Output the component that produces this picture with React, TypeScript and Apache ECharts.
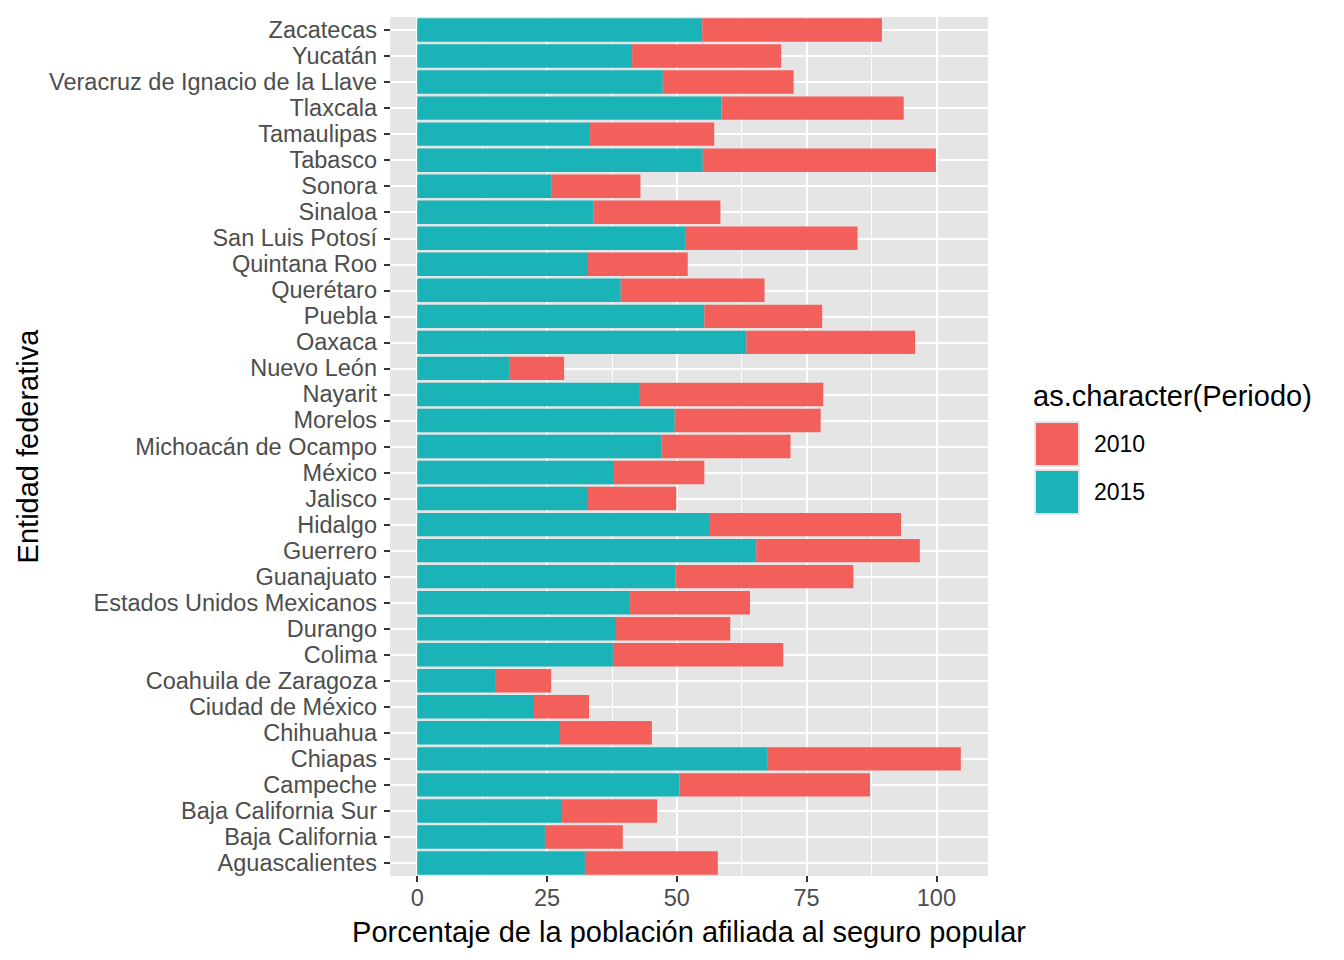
import React, { useEffect, useRef } from "react";
import * as echarts from "echarts";

const categories = [
  "Aguascalientes", "Baja California", "Baja California Sur", "Campeche", "Chiapas",
  "Chihuahua", "Ciudad de México", "Coahuila de Zaragoza", "Colima", "Durango",
  "Estados Unidos Mexicanos", "Guanajuato", "Guerrero", "Hidalgo", "Jalisco",
  "México", "Michoacán de Ocampo", "Morelos", "Nayarit", "Nuevo León",
  "Oaxaca", "Puebla", "Querétaro", "Quintana Roo", "San Luis Potosí",
  "Sinaloa", "Sonora", "Tabasco", "Tamaulipas", "Tlaxcala",
  "Veracruz de Ignacio de la Llave", "Yucatán", "Zacatecas",
];

const values2015 = [
  32.3, 24.6, 27.9, 50.5, 67.4,
  27.5, 22.5, 15.0, 37.7, 38.3,
  41.0, 49.7, 65.3, 56.2, 32.9,
  37.9, 47.1, 49.6, 42.9, 17.7,
  63.4, 55.3, 39.2, 32.9, 51.6,
  33.9, 25.8, 55.0, 33.3, 58.6,
  47.3, 41.4, 54.9,
];

const values2010 = [
  25.6, 15.0, 18.3, 36.7, 37.3,
  17.7, 10.6, 10.8, 32.8, 22.0,
  23.1, 34.3, 31.5, 37.0, 17.0,
  17.4, 24.8, 28.1, 35.3, 10.6,
  32.5, 22.7, 27.7, 19.2, 33.2,
  24.5, 17.2, 44.9, 23.9, 35.1,
  25.2, 28.7, 34.6,
];

const seriesNames = ["2010", "2015"];
const majorTicks = [0, 25, 50, 75, 100];
const minorTicks = [12.5, 37.5, 62.5, 87.5];

const FONT = "Liberation Sans, Arial, Helvetica, sans-serif";
const RED = "#F35F5A";
const TEAL = "#19B3B8";

export default function App() {
  const ref = useRef<HTMLDivElement>(null);

  useEffect(() => {
    document.body.style.margin = "0";
    if (!ref.current) return;
    const chart = echarts.init(ref.current, undefined, { renderer: "svg" });

    const totals = values2015.map((v, i) => v + values2010[i]);
    const maxTotal = Math.max(...totals);
    const pad = maxTotal * 0.05;

    const gridLines: any[] = [
      ...categories.map((c) => ({ yAxis: c, lineStyle: { color: "#FFFFFF", width: 1.8, type: "solid" } })),
      ...majorTicks.map((v) => ({ xAxis: v, lineStyle: { color: "#FFFFFF", width: 1.8, type: "solid" } })),
      ...minorTicks.map((v) => ({ xAxis: v, lineStyle: { color: "#FFFFFF", width: 0.9, type: "solid" } })),
    ];

    chart.setOption({
      animation: false,
      textStyle: { fontFamily: FONT },
      grid: {
        left: 390,
        right: 356,
        top: 17,
        bottom: 84,
        show: true,
        backgroundColor: "#E5E5E5",
        borderWidth: 0,
        containLabel: false,
      },
      title: {
        text: "as.character(Periodo)",
        left: 1033,
        top: 381,
        padding: 0,
        textStyle: { fontSize: 29, fontWeight: "normal", color: "#000000", fontFamily: FONT },
      },
      legend: {
        data: seriesNames,
        orient: "vertical",
        left: 1034,
        top: 421,
        padding: 0,
        itemWidth: 44,
        itemHeight: 44,
        itemGap: 2,
        icon: "rect",
        itemStyle: { borderColor: "#E5E5E5", borderWidth: 2 },
        textStyle: { fontSize: 23, color: "#000000", fontFamily: FONT, padding: [0, 0, 0, 10] },
        selectedMode: false,
      },
      xAxis: {
        type: "value",
        min: -pad,
        max: maxTotal + pad,
        name: "Porcentaje de la población afiliada al seguro popular",
        nameLocation: "middle",
        nameGap: 41,
        nameTextStyle: { fontSize: 29, color: "#000000", fontFamily: FONT },
        axisLine: { show: true, onZero: false, lineStyle: { color: "rgba(0,0,0,0)", width: 1 } },
        axisTick: {
          show: true,
          inside: false,
          length: 6,
          lineStyle: { color: "#333333", width: 2 },
          customValues: majorTicks,
        },
        axisLabel: {
          show: true,
          fontSize: 23.5,
          color: "#4D4D4D",
          margin: 10,
          customValues: majorTicks,
          fontFamily: FONT,
        },
        splitLine: { show: false },
      },
      yAxis: {
        type: "category",
        data: categories,
        name: "Entidad federativa",
        nameLocation: "middle",
        nameGap: 348,
        nameRotate: 90,
        nameTextStyle: { fontSize: 29, color: "#000000", fontFamily: FONT },
        axisLine: { show: true, onZero: false, lineStyle: { color: "rgba(0,0,0,0)", width: 1 } },
        axisTick: {
          show: true,
          inside: false,
          alignWithLabel: true,
          interval: 0,
          length: 6,
          lineStyle: { color: "#333333", width: 2 },
        },
        axisLabel: { fontSize: 23.5, color: "#4D4D4D", margin: 13, fontFamily: FONT, interval: 0 },
        splitLine: { show: false },
      },
      series: [
        {
          name: "2015",
          type: "bar",
          stack: "total",
          data: values2015,
          barWidth: "90%",
          itemStyle: { color: TEAL },
          z: 2,
          markLine: {
            silent: true,
            symbol: "none",
            z: 1,
            label: { show: false },
            emphasis: { disabled: true },
            data: gridLines,
          },
        },
        {
          name: "2010",
          type: "bar",
          stack: "total",
          data: values2010,
          barWidth: "90%",
          itemStyle: { color: RED },
          z: 2,
        },
      ],
    });

    return () => chart.dispose();
  }, []);

  return <div ref={ref} style={{ width: 1344, height: 960 }} />;
}
